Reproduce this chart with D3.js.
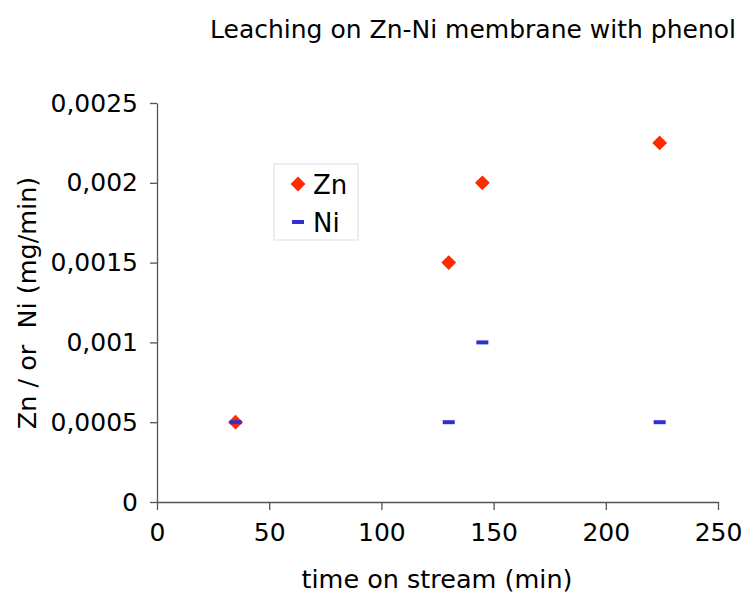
<!DOCTYPE html>
<html><head><meta charset="utf-8">
<script src="https://cdn.jsdelivr.net/npm/d3@7"></script>
<style>body{margin:0;background:#fff}svg{display:block}text{font-family:"DejaVu Sans",Verdana,sans-serif}</style>
</head><body>
<svg id="c" width="744" height="597"></svg>
<script>
const zinc = [[35,0.0005],[130,0.0015],[145,0.002],[224,0.00225]];
const nickel = [[35,0.0005],[130,0.0005],[145,0.001],[224,0.0005]];
const xTicks = [0,50,100,150,200,250];
const yTicks = [0,0.0005,0.001,0.0015,0.002,0.0025];
const yLabels = ["0","0,0005","0,001","0,0015","0,002","0,0025"];

const svg = d3.select("#c");
const x = d3.scaleLinear().domain([0,250]).range([157,718]);
const y = d3.scaleLinear().domain([0,0.0025]).range([502,103]);
const axisColor = "#555";

const gx = svg.append("g").attr("transform","translate(0,502)")
  .call(d3.axisBottom(x).tickValues(xTicks).tickSize(8).tickSizeOuter(0).tickPadding(12));
const gy = svg.append("g").attr("transform","translate(157,0)")
  .call(d3.axisLeft(y).tickValues(yTicks).tickSize(7).tickSizeOuter(0).tickPadding(12)
    .tickFormat((d,i)=>yLabels[i]));
[gx,gy].forEach(g=>{
  g.attr("font-size",null);
  g.selectAll("path,line").attr("stroke",axisColor).attr("stroke-width",1.3);
  g.selectAll("text").attr("fill","#000").style("font-size","25px")
   .style("font-family",'"DejaVu Sans",Verdana,sans-serif');
});
gx.selectAll("text").attr("dy","0.75em");

const diamond = d3.symbol().type(d3.symbolSquare).size(110);
svg.append("g").selectAll("path").data(zinc).join("path")
  .attr("d",diamond)
  .attr("transform",d=>`translate(${x(d[0])},${y(d[1])}) rotate(45)`)
  .attr("fill","#ff2a00");
svg.append("g").selectAll("rect").data(nickel).join("rect")
  .attr("x",d=>x(d[0])-6).attr("y",d=>y(d[1])-2)
  .attr("width",12).attr("height",4).attr("fill","#3030d0");

// legend
const lg = svg.append("g");
lg.append("rect").attr("x",274).attr("y",164).attr("width",84).attr("height",76)
  .attr("fill","#fff").attr("stroke","#ddd").attr("stroke-width",1);
lg.append("path").attr("d",diamond).attr("transform","translate(298,184) rotate(45)").attr("fill","#ff2a00");
lg.append("rect").attr("x",292).attr("y",220).attr("width",12).attr("height",4).attr("fill","#3030d0");
lg.append("text").attr("x",313).attr("y",194).style("font-size","26px").text("Zn");
lg.append("text").attr("x",313).attr("y",232).style("font-size","26px").text("Ni");

svg.append("text").attr("x",736).attr("y",38).attr("text-anchor","end")
  .style("font-size","25px").text("Leaching on Zn-Ni membrane with phenol");
svg.append("text").attr("x",437).attr("y",588).attr("text-anchor","middle")
  .style("font-size","25.5px").text("time on stream (min)");
svg.append("text").attr("transform","translate(36,303) rotate(-90)").attr("text-anchor","middle")
  .style("font-size","25.5px").style("white-space","pre").text("Zn / or  Ni (mg/min)");
</script>
</body></html>
